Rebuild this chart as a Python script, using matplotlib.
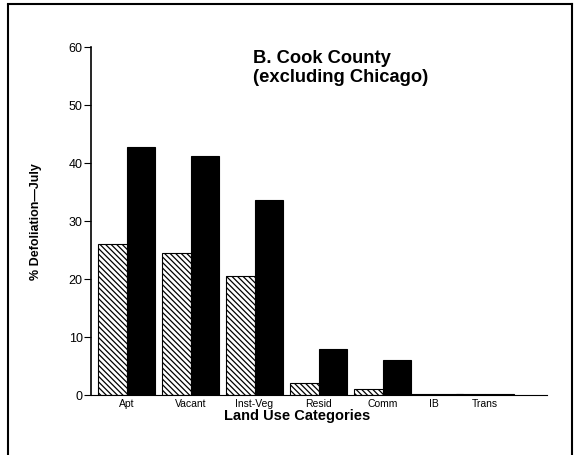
import matplotlib.pyplot as plt
from matplotlib.lines import Line2D
import numpy as np

plt.rcParams['font.family'] = ['Liberation Sans', 'DejaVu Sans']
plt.rcParams['hatch.linewidth'] = 0.9

categories = ['Apt', 'Vacant', 'Inst-Veg', 'Resid', 'Comm', 'IB', 'Trans']
hatched_vals = [26.1, 24.5, 20.5, 2.0, 1.1, 0.1, 0.1]
black_vals = [42.8, 41.2, 33.7, 7.9, 6.0, 0.2, 0.1]

# slot positions along the axis (last two squeezed together like the original)
xpos = np.array([0, 1, 2, 3, 4, 4.8, 5.6])
w = 0.45

fig = plt.figure(figsize=(5.77, 4.56), dpi=100)
ax = fig.add_axes([91/577, 1 - 396/456, (547 - 91)/577, (396 - 48)/456])

ax.bar(xpos - w/2, hatched_vals, w, color='white', edgecolor='black',
       hatch='\\\\\\\\\\\\', linewidth=0.8)
ax.bar(xpos + w/2, black_vals, w, color='black', edgecolor='black', linewidth=0.8)

ax.set_xlim(-0.555, 6.57)
ax.set_ylim(0, 60)
ax.set_yticks([0, 10, 20, 30, 40, 50, 60])
ax.set_yticklabels(['0', '10', '20', '30', '40', '50', '60'], fontsize=9)
ax.tick_params(axis='y', direction='out', length=5, width=0.8, pad=1)
ax.tick_params(axis='x', length=0, pad=2)
ax.set_xticks(xpos)
ax.set_xticklabels(categories, fontsize=7.5)
for s in ['top', 'right']:
    ax.spines[s].set_visible(False)
ax.spines['left'].set_linewidth(1.2)
ax.spines['bottom'].set_linewidth(0.8)

ax.set_ylabel('% Defoliation\u2014July', fontsize=9, fontweight='bold', labelpad=19)
fig.text(297/577, 1 - 416/456, 'Land Use Categories', fontsize=10.5, fontweight='bold',
         ha='center', va='center')
fig.text(253/577, 1 - 50/456, 'B. Cook County\n(excluding Chicago)', fontsize=13.2,
         fontweight='bold', ha='left', va='top', linespacing=1.15)

# frame around the panel (open at the bottom)
fig.add_artist(Line2D([8/577, 8/577], [0, 1 - 6/456], color='black', lw=1.5,
                      transform=fig.transFigure))
fig.add_artist(Line2D([8/577, 572/577], [1 - 5/456, 1 - 5/456], color='black', lw=1.5,
                      transform=fig.transFigure))
fig.add_artist(Line2D([572/577, 572/577], [0, 1 - 5/456], color='black', lw=1.5,
                      transform=fig.transFigure))

fig.savefig('out.png', dpi=100)
